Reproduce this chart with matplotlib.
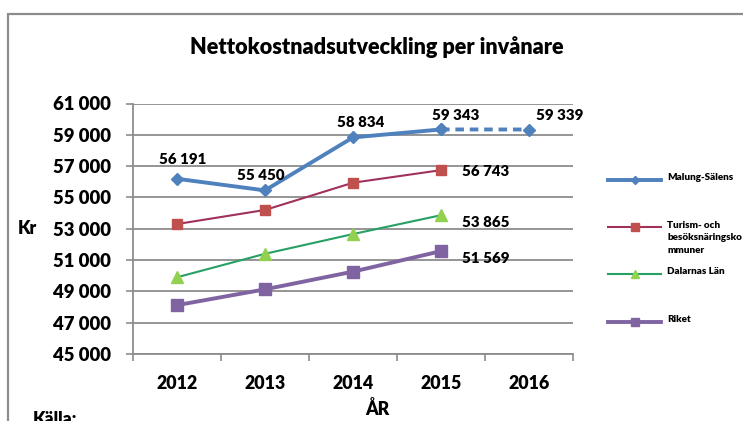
import matplotlib
matplotlib.use("Agg")
import matplotlib.pyplot as plt
from matplotlib.lines import Line2D
from matplotlib.patches import Rectangle

years = ["2012", "2013", "2014", "2015", "2016"]
malung = [56191, 55450, 58834, 59343]
malung_prog = [59343, 59339]
turism = [53300, 54200, 55940, 56743]
dalarna = [49900, 51400, 52660, 53865]
riket = [48120, 49130, 50260, 51569]
yticks = [45000, 47000, 49000, 51000, 53000, 55000, 57000, 59000, 61000]
ytick_labels = ["45 000", "47 000", "49 000", "51 000", "53 000", "55 000", "57 000", "59 000", "61 000"]
legend_labels = ["Malung-Sälens", "Turism- och\nbesöksnäringsko\nmmuner", "Dalarnas Län", "Riket"]

FONT = "Lato"
WT = "heavy"
W, H = 743, 421
fig = plt.figure(figsize=(W / 100, H / 100), dpi=100)
fig.patch.set_facecolor("white")

# outer frame
fig.patches.append(Rectangle((8 / W, -0.1), 1.2, 1.1 - 14 / H, transform=fig.transFigure,
                             fill=False, edgecolor="#8c8c8c", linewidth=1.6))

ax = fig.add_axes([133 / W, 1 - 354 / H, 440 / W, 250.5 / H])
x = list(range(len(years)))

ax.set_xlim(-0.5, 4.5)
ax.set_ylim(45000, 61000)
ax.set_yticks(yticks)
ax.set_yticklabels(ytick_labels)
ax.set_xticks(x)
ax.set_xticklabels(years)
ax.set_xticks([i - 0.5 for i in range(6)], minor=True)
ax.tick_params(axis="x", which="major", length=0, pad=15)
ax.tick_params(axis="x", which="minor", length=5, color="#8c8c8c", width=1.2, direction="out")
ax.tick_params(axis="y", length=5, color="#8c8c8c", width=1.2, direction="out", pad=11)
for lab in ax.get_yticklabels():
    lab.set_fontfamily(FONT)
    lab.set_fontweight(WT)
    lab.set_fontsize(13.3)
for lab in ax.get_xticklabels():
    lab.set_fontfamily(FONT)
    lab.set_fontweight(WT)
    lab.set_fontsize(12.8)
ax.grid(axis="y", color="#8c8c8c", linewidth=1.3)
ax.set_axisbelow(True)
for s in ["top", "right"]:
    ax.spines[s].set_visible(False)
for s in ["left", "bottom"]:
    ax.spines[s].set_color("#8c8c8c")
    ax.spines[s].set_linewidth(1.3)

blue = "#4F81BD"
ax.plot(x[:4], malung, color=blue, lw=2.8, marker="D", ms=6, mfc=blue, mec=blue, zorder=5)
ax.plot(x[3:5], malung_prog, color=blue, lw=2.8, ls=(0, (2.2, 1.5)), marker="D", ms=6, mfc=blue, mec=blue, zorder=5)
ax.plot(x[:4], turism, color="#A0315C", lw=1.5, marker="s", ms=7.5, mfc="#C0504D", mec="#C0504D", zorder=4)
ax.plot(x[:4], dalarna, color="#27A065", lw=1.5, marker="^", ms=8, mfc="#92D050", mec="#92D050", zorder=4)
ax.plot(x[:4], riket, color="#8064A2", lw=2.8, marker="s", ms=8, mfc="#8064A2", mec="#8064A2", zorder=4)

def fmt(v):
    return f"{v:,}".replace(",", " ")

lab_kw = dict(fontfamily=FONT, fontweight=WT, textcoords="offset pixels", zorder=6,
              fontsize=10.8, va="center")
mal_offsets = [(6, 19), (-4, 15), (8, 15), (15, 14)]
for i, v in enumerate(malung):
    ax.annotate(fmt(v), (x[i], v), xytext=mal_offsets[i], ha="center", **lab_kw)
ax.annotate(fmt(malung_prog[1]), (x[4], malung_prog[1]), xytext=(31, 14), ha="center", **lab_kw)
ax.annotate(fmt(turism[-1]), (x[3], turism[-1]), xytext=(21, -1), ha="left", **lab_kw)
ax.annotate(fmt(dalarna[-1]), (x[3], dalarna[-1]), xytext=(21, -7), ha="left", **lab_kw)
ax.annotate(fmt(riket[-1]), (x[3], riket[-1]), xytext=(21, -7), ha="left", **lab_kw)

fig.text(377 / W, 1 - 47 / H, "Nettokostnadsutveckling per invånare", ha="center", va="center",
         fontfamily=FONT, fontweight=WT, fontsize=15.6)
fig.text(27 / W, 1 - 228 / H, "Kr", ha="center", va="center", fontfamily=FONT, fontweight=WT, fontsize=12.8)
fig.text(377 / W, 1 - 409 / H, "ÅR", ha="center", va="center", fontfamily=FONT, fontweight=WT, fontsize=12.8)
fig.text(33 / W, 1 - 411 / H, "Källa:", ha="left", va="top", fontfamily=FONT, fontweight=WT, fontsize=12.8)

# legend
leg_style = [
    dict(color=blue, lw=2.8, marker="D", ms=4, mfc=blue, mec=blue),
    dict(color="#A0315C", lw=1.5, marker="s", ms=6, mfc="#C0504D", mec="#C0504D"),
    dict(color="#27A065", lw=1.5, marker="^", ms=6, mfc="#92D050", mec="#92D050"),
    dict(color="#8064A2", lw=2.8, marker="s", ms=6, mfc="#8064A2", mec="#8064A2"),
]
leg_y = [180, 227, 274, 322]
for lbl, st, yy in zip(legend_labels, leg_style, leg_y):
    fy = 1 - yy / H
    fig.add_artist(Line2D([608 / W, 661 / W], [fy, fy], transform=fig.transFigure,
                          color=st["color"], lw=st["lw"]))
    fig.add_artist(Line2D([634.5 / W], [fy], transform=fig.transFigure, color=st["color"],
                          marker=st["marker"], ms=st["ms"], mfc=st["mfc"], mec=st["mec"], lw=0))
    fig.text(667 / W, fy + 6.5 / H, lbl, ha="left", va="top", fontfamily=FONT, fontweight=WT,
             fontsize=7.1, linespacing=1.55)

fig.savefig("out.png", dpi=100)
